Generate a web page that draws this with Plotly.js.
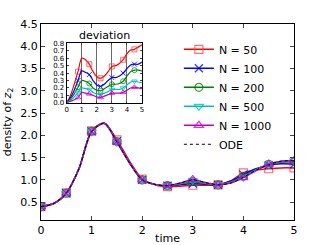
<!DOCTYPE html>
<html>
<head>
<meta charset="utf-8">
<script src="https://cdn.plot.ly/plotly-3.0.1.min.js"></script>
<style>html,body{margin:0;padding:0;background:#fff;}#chart{width:327px;height:245px;}</style>
</head>
<body>
<div id="chart"></div>
<script>
// time grid (step 0.25)
var time = [0,0.25,0.5,0.75,1,1.25,1.5,1.75,2,2.25,2.5,2.75,3,3.25,3.5,3.75,4,4.25,4.5,4.75,5];
var seriesNames = ["N = 50","N = 100","N = 200","N = 500","N = 1000"];
// density of z2
var densN50   = [0.40,0.47,0.71,1.25,2.10,2.28,1.90,1.42,1.02,0.89,0.85,0.86,0.88,0.88,0.89,0.98,1.16,1.22,1.25,1.27,1.27];
var densN100  = [0.40,0.47,0.70,1.25,2.09,2.27,1.87,1.39,1.00,0.90,0.87,0.89,0.92,0.90,0.89,0.97,1.12,1.25,1.33,1.36,1.35];
var densN200  = [0.40,0.47,0.70,1.25,2.09,2.27,1.86,1.38,1.00,0.90,0.87,0.91,0.96,0.92,0.89,0.95,1.08,1.23,1.35,1.40,1.41];
var densN500  = [0.40,0.47,0.70,1.25,2.08,2.27,1.85,1.38,1.00,0.90,0.87,0.92,0.99,0.93,0.89,0.94,1.06,1.22,1.35,1.42,1.43];
var densN1000 = [0.40,0.47,0.70,1.25,2.08,2.27,1.85,1.38,1.00,0.90,0.87,0.93,1.01,0.94,0.89,0.93,1.05,1.21,1.35,1.42,1.43];
var densODE   = [0.40,0.47,0.70,1.25,2.08,2.27,1.85,1.38,1.00,0.90,0.87,0.93,1.00,0.94,0.89,0.93,1.06,1.22,1.34,1.42,1.43];
// deviation (inset)
var devN50   = [0,0.10,0.25,0.42,0.60,0.58,0.52,0.42,0.35,0.33,0.36,0.42,0.49,0.50,0.53,0.58,0.66,0.71,0.72,0.75,0.78];
var devN100  = [0,0.07,0.17,0.30,0.43,0.41,0.38,0.30,0.24,0.22,0.25,0.30,0.34,0.34,0.36,0.40,0.46,0.51,0.52,0.52,0.55];
var devN200  = [0,0.05,0.12,0.21,0.30,0.29,0.26,0.20,0.17,0.16,0.19,0.22,0.25,0.25,0.26,0.29,0.36,0.42,0.44,0.44,0.43];
var devN500  = [0,0.03,0.08,0.14,0.20,0.19,0.18,0.14,0.12,0.11,0.13,0.15,0.18,0.18,0.18,0.20,0.24,0.28,0.29,0.28,0.27];
var devN1000 = [0,0.02,0.04,0.07,0.14,0.13,0.12,0.10,0.08,0.07,0.09,0.11,0.13,0.13,0.13,0.14,0.17,0.20,0.21,0.20,0.19];
var xTicks = [0,1,2,3,4,5];
var yTicks = [0.5,1.0,1.5,2.0,2.5,3.0,3.5,4.0,4.5];
var yTickLabels = ["0.5","1.0","1.5","2.0","2.5","3.0","3.5","4.0","4.5"];
var insetYTicks = [0,0.1,0.2,0.3,0.4,0.5,0.6,0.7,0.8];
var insetYTickLabels = ["0.0","0.1","0.2","0.3","0.4","0.5","0.6","0.7","0.8"];

var lineColors = ["#ff0000","#0000ff","#008000","#00bfbf","#bf00bf"];
var markColors = ["rgba(255,60,60,0.75)","rgba(0,0,255,0.8)","rgba(0,128,0,0.75)","rgba(0,191,191,0.8)","rgba(210,0,210,0.8)"];
var symbols = ["square-open","x-thin-open","circle-open","triangle-down-open","triangle-up-open"];
var dens = [densN50,densN100,densN200,densN500,densN1000];
var devs = [devN50,devN100,devN200,devN500,devN1000];

function markerColorArr(c, every, offset){
  return time.map(function(t,i){ return (i>=offset && (i-offset)%every===0) ? c : "rgba(0,0,0,0)"; });
}

var traces = [];
for (var k=0;k<5;k++){
  traces.push({
    x: time, y: dens[k], name: seriesNames[k], type:"scatter", mode:"lines+markers",
    line:{color:lineColors[k], width:1.5, shape:"spline", smoothing:0.8},
    marker:{symbol:symbols[k], size:8, color:markerColorArr(markColors[k],2,0), line:{width:1.2}},
    xaxis:"x", yaxis:"y"
  });
}
traces.push({
  x: time, y: densODE, name:"ODE", type:"scatter", mode:"lines",
  line:{color:"#000000", width:1, dash:"3px,3px", shape:"spline", smoothing:0.8},
  xaxis:"x", yaxis:"y"
});
for (var k=0;k<5;k++){
  traces.push({
    x: time, y: devs[k], name: seriesNames[k], type:"scatter", mode:"lines+markers", showlegend:false,
    line:{color:lineColors[k], width:1.2, shape:"spline", smoothing:0.8},
    marker:{symbol:symbols[k], size:5, color:markerColorArr(markColors[k],3,3), line:{width:1}},
    xaxis:"x2", yaxis:"y2"
  });
}

var font = {family:"DejaVu Sans, Liberation Sans, sans-serif", color:"#000"};
var layout = {
  width:327, height:245,
  margin:{l:41, r:33, t:24, b:25, pad:0},
  paper_bgcolor:"#fff", plot_bgcolor:"#fff",
  font:{family:font.family, size:11, color:"#000"},
  showlegend:true,
  legend:{x:0.545, y:0.945, xanchor:"left", yanchor:"top", bgcolor:"rgba(255,255,255,0)",
          borderwidth:0, font:{family:font.family, size:11, color:"#000"}, tracegroupgap:0},
  xaxis:{domain:[0,1], range:[0,5], tickvals:xTicks, ticktext:xTicks.map(String), ticks:"inside", ticklen:4,
         mirror:"ticks", showline:true, linecolor:"#000", linewidth:1, showgrid:false, zeroline:false,
         tickfont:{family:font.family, size:11, color:"#000"},
         title:{text:"time", font:{family:font.family, size:11, color:"#000"}, standoff:2}},
  yaxis:{domain:[0,1], range:[0.1,4.5], tickvals:yTicks, ticktext:yTickLabels, ticks:"inside", ticklen:4,
         mirror:"ticks", showline:true, linecolor:"#000", linewidth:1, showgrid:false, zeroline:false,
         tickfont:{family:font.family, size:11, color:"#000"},
         title:{text:"density of <i>z</i><sub>2</sub>", font:{family:font.family, size:11, color:"#000"}, standoff:6}},
  xaxis2:{domain:[0.1016,0.399], anchor:"y2", range:[0,5], tickvals:xTicks, ticktext:xTicks.map(String),
          ticks:"inside", ticklen:2, mirror:"ticks", showline:true, linecolor:"#000", linewidth:1,
          showgrid:true, gridcolor:"#444", gridwidth:0.8, zeroline:false,
          tickfont:{family:font.family, size:7, color:"#000"}},
  yaxis2:{domain:[0.598,0.901], anchor:"x2", range:[0,0.8], tickvals:insetYTicks, ticktext:insetYTickLabels,
          ticks:"inside", ticklen:2, mirror:"ticks", showline:true, linecolor:"#000", linewidth:1,
          showgrid:false, zeroline:false, tickfont:{family:font.family, size:7, color:"#000"}},
  annotations:[{text:"deviation", xref:"x2 domain", yref:"y2 domain", x:0.5, y:1.0, xanchor:"center", yanchor:"bottom",
                yshift:-1, showarrow:false, font:{family:font.family, size:11, color:"#000"}}]
};
Plotly.newPlot("chart", traces, layout, {staticPlot:true, displayModeBar:false});
</script>
</body>
</html>
